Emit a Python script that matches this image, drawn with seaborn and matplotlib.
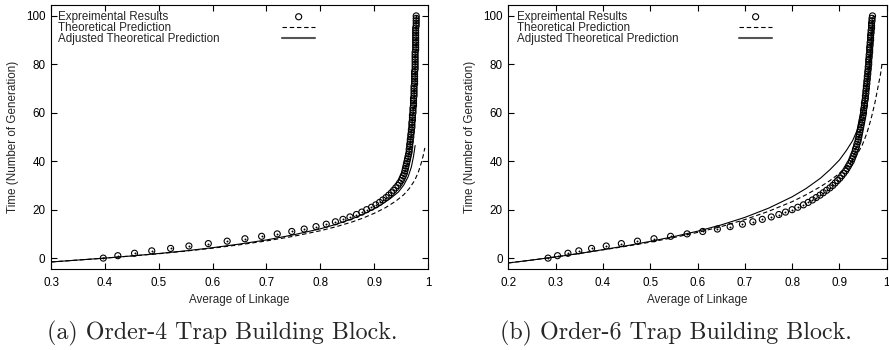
import numpy as np
import pandas as pd
import matplotlib
matplotlib.use("Agg")
import matplotlib.pyplot as plt
import seaborn as sns

# ---------------- data ----------------
generations = list(range(0, 101))  # integer generation index of each experimental point

exp_linkage_a = [
    0.397, 0.424, 0.455, 0.487, 0.522, 0.556, 0.592, 0.627, 0.660, 0.691,
    0.720, 0.747, 0.770, 0.792, 0.811, 0.828, 0.842, 0.855, 0.867, 0.877,
    0.886, 0.895, 0.903, 0.910, 0.916, 0.922, 0.927, 0.932, 0.936, 0.940,
    0.944, 0.947, 0.950, 0.952, 0.954, 0.956, 0.957, 0.958, 0.959, 0.960,
    0.961, 0.962, 0.963, 0.964, 0.965, 0.965, 0.966, 0.966, 0.967, 0.967,
    0.968, 0.968, 0.969, 0.969, 0.970, 0.970, 0.970, 0.971, 0.971, 0.971,
    0.972, 0.972, 0.972, 0.973, 0.973, 0.973, 0.973, 0.974, 0.974, 0.974,
    0.974, 0.974, 0.975, 0.975, 0.975, 0.975, 0.975, 0.975, 0.976, 0.976,
    0.976, 0.976, 0.976, 0.976, 0.976, 0.976, 0.977, 0.977, 0.977, 0.977,
    0.977, 0.977, 0.977, 0.977, 0.977, 0.977, 0.978, 0.978, 0.978, 0.978, 0.978,
]

exp_linkage_b = [
    0.284, 0.304, 0.326, 0.349, 0.376, 0.407, 0.439, 0.473, 0.508, 0.543,
    0.578, 0.611, 0.642, 0.669, 0.695, 0.717, 0.737, 0.756, 0.772, 0.786,
    0.800, 0.812, 0.824, 0.834, 0.843, 0.851, 0.859, 0.866, 0.873, 0.880,
    0.886, 0.891, 0.896, 0.901, 0.905, 0.909, 0.913, 0.916, 0.919, 0.922,
    0.925, 0.927, 0.929, 0.931, 0.933, 0.934, 0.936, 0.937, 0.939, 0.940,
    0.941, 0.942, 0.943, 0.944, 0.945, 0.946, 0.947, 0.948, 0.949, 0.950,
    0.951, 0.951, 0.952, 0.953, 0.953, 0.954, 0.955, 0.955, 0.956, 0.956,
    0.957, 0.957, 0.958, 0.958, 0.959, 0.959, 0.960, 0.960, 0.961, 0.961,
    0.962, 0.962, 0.962, 0.963, 0.963, 0.964, 0.964, 0.964, 0.965, 0.965,
    0.966, 0.966, 0.966, 0.967, 0.967, 0.968, 0.968, 0.968, 0.969, 0.969, 0.970,
]

theo_x_a = [0.30, 0.35, 0.40, 0.45, 0.50, 0.55, 0.60, 0.65, 0.70, 0.75, 0.80, 0.83,
            0.86, 0.88, 0.90, 0.92, 0.94, 0.955, 0.965, 0.975, 0.982, 0.987, 0.991, 0.994]
theo_t_a = [-1.6, -0.8, 0.0, 0.9, 1.8, 2.9, 4.1, 5.5, 7.1, 9.0, 11.3, 13.0,
            15.0, 16.6, 18.5, 20.7, 23.5, 26.2, 28.7, 32.0, 35.5, 39.0, 42.3, 45.5]

adj_x_a = [0.30, 0.35, 0.40, 0.45, 0.50, 0.55, 0.60, 0.65, 0.70, 0.75, 0.80, 0.83,
           0.86, 0.886, 0.91, 0.93, 0.945, 0.955, 0.963, 0.969, 0.973, 0.976]
adj_t_a = [-1.6, -0.8, 0.0, 0.9, 1.9, 3.0, 4.3, 5.8, 7.5, 9.6, 12.1, 14.0,
           16.3, 18.8, 21.6, 24.6, 27.3, 30.2, 33.6, 37.6, 42.0, 46.5]

theo_x_b = [0.20, 0.25, 0.30, 0.35, 0.40, 0.45, 0.50, 0.55, 0.60, 0.65, 0.70, 0.75, 0.80,
            0.83, 0.86, 0.88, 0.90, 0.92, 0.935, 0.948, 0.958, 0.967, 0.975, 0.982, 0.987, 0.990]
theo_t_b = [-2.0, -0.8, 0.5, 1.9, 3.4, 4.9, 6.6, 8.5, 10.6, 13.0, 15.9, 19.3, 23.3,
            26.2, 29.5, 32.0, 35.0, 38.5, 42.0, 46.5, 51.5, 57.5, 64.0, 71.0, 76.0, 80.0]

adj_x_b = [0.20, 0.25, 0.30, 0.35, 0.40, 0.45, 0.50, 0.55, 0.60, 0.65, 0.70, 0.75, 0.80,
           0.83, 0.86, 0.88, 0.90, 0.915, 0.928, 0.938, 0.946, 0.953, 0.959, 0.964, 0.968, 0.971]
adj_t_b = [-2.0, -0.8, 0.5, 1.9, 3.5, 5.1, 6.9, 8.9, 11.1, 13.7, 16.8, 20.6, 25.3,
           28.8, 33.0, 36.5, 40.5, 44.5, 48.5, 53.0, 58.0, 64.0, 71.0, 79.0, 88.0, 98.0]

xticks_a = [0.3, 0.4, 0.5, 0.6, 0.7, 0.8, 0.9, 1.0]
xticklabels_a = ["0.3", "0.4", "0.5", "0.6", "0.7", "0.8", "0.9", "1"]
xticks_b = [0.2, 0.3, 0.4, 0.5, 0.6, 0.7, 0.8, 0.9, 1.0]
xticklabels_b = ["0.2", "0.3", "0.4", "0.5", "0.6", "0.7", "0.8", "0.9", "1"]
yticks = [0, 20, 40, 60, 80, 100]

label_exp = "Expreimental Results"
label_theo = "Theoretical Prediction"
label_adj = "Adjusted Theoretical Prediction"
xlabel = "Average of Linkage"
ylabel = "Time (Number of Generation)"
caption_a = "(a) Order-4 Trap Building Block."
caption_b = "(b) Order-6 Trap Building Block."

# ---------------- style ----------------
sns.set_theme(style="ticks")
plt.rcParams["font.family"] = ["Liberation Sans", "DejaVu Sans"]
plt.rcParams["axes.linewidth"] = 0.8
FS = 8.4

W, H = 889, 350
fig = plt.figure(figsize=(W / 100, H / 100), dpi=100)

def panel(rect, ex, tx, tt, ax_, at_, xlim, xt, xtl, legx, handx):
    ax = fig.add_axes(rect)
    exp_df = pd.DataFrame({"x": ex, "t": generations})
    theo_df = pd.DataFrame({"x": tx, "t": tt})
    adj_df = pd.DataFrame({"x": ax_, "t": at_})
    sns.lineplot(data=adj_df, x="x", y="t", sort=False, estimator=None, ax=ax,
                 color="black", lw=0.8, label=label_adj)
    sns.lineplot(data=theo_df, x="x", y="t", sort=False, estimator=None, ax=ax,
                 color="black", lw=0.8, label=label_theo)
    ax.lines[-1].set_linestyle((0, (4, 2.5)))
    sns.scatterplot(data=exp_df, x="x", y="t", ax=ax, marker="o", s=19,
                    linewidth=0.8, label=label_exp, zorder=3)
    coll = ax.collections[-1]
    coll.set_facecolor("none")
    coll.set_edgecolor("black")
    sns.scatterplot(data=exp_df, x="x", y="t", ax=ax, marker="o", s=2.0,
                    color="black", linewidth=0, zorder=4, legend=False)
    ax.set_xlim(*xlim)
    ax.set_ylim(-4.5, 104.5)
    ax.set_xticks(xt)
    ax.set_xticklabels(xtl)
    ax.set_yticks(yticks)
    ax.tick_params(direction="in", top=True, right=True, length=4, width=0.8,
                   labelsize=FS, colors="black")
    ax.tick_params(axis="x", pad=6)
    ax.tick_params(axis="y", pad=4)
    for s in ax.spines.values():
        s.set_color("black")
        s.set_linewidth(0.8)
    ax.set_xlabel(xlabel, fontsize=FS, labelpad=3.5)
    ax.set_ylabel(ylabel, fontsize=FS, labelpad=5)
    h, l = ax.get_legend_handles_labels()
    order = [l.index(label_exp), l.index(label_theo), l.index(label_adj)]
    hh = [h[i] for i in order]
    ll = [l[i] for i in order]
    # text column (left aligned)
    leg1 = ax.legend(hh, ll, loc="upper left", bbox_to_anchor=(legx, 0.978),
                     frameon=False, fontsize=FS, handlelength=0, handletextpad=0,
                     labelspacing=-0.08, borderpad=0, borderaxespad=0)
    for lh in leg1.legend_handles:
        lh.set_visible(False)
    ax.add_artist(leg1)
    # sample column
    leg2 = ax.legend(hh, [" "] * 3, loc="upper left", bbox_to_anchor=(handx, 0.978),
                     frameon=False, fontsize=FS, handlelength=2.85, handletextpad=0,
                     labelspacing=-0.08, borderpad=0, borderaxespad=0)
    lh = leg2.legend_handles
    lh[2].set_color("#555555")
    lh[2].set_linewidth(1.5)
    return ax

axA = panel([0.0574, 0.2314, 0.4241, 0.7543], exp_linkage_a, theo_x_a, theo_t_a,
            adj_x_a, adj_t_a, (0.3, 1.0), xticks_a, xticklabels_a, 0.0186, 0.6127)
axB = panel([0.5718, 0.2314, 0.4256, 0.7543], exp_linkage_b, theo_x_b, theo_t_b,
            adj_x_b, adj_t_b, (0.2, 1.0), xticks_b, xticklabels_b, 0.022, 0.6097)

fig.text(222 / W, 1 - 339 / H, caption_a, fontfamily="cmr10", fontsize=17.3,
         ha="center", va="baseline")
fig.text(676 / W, 1 - 339 / H, caption_b, fontfamily="cmr10", fontsize=17.3,
         ha="center", va="baseline")

fig.savefig("out.png", dpi=100)
